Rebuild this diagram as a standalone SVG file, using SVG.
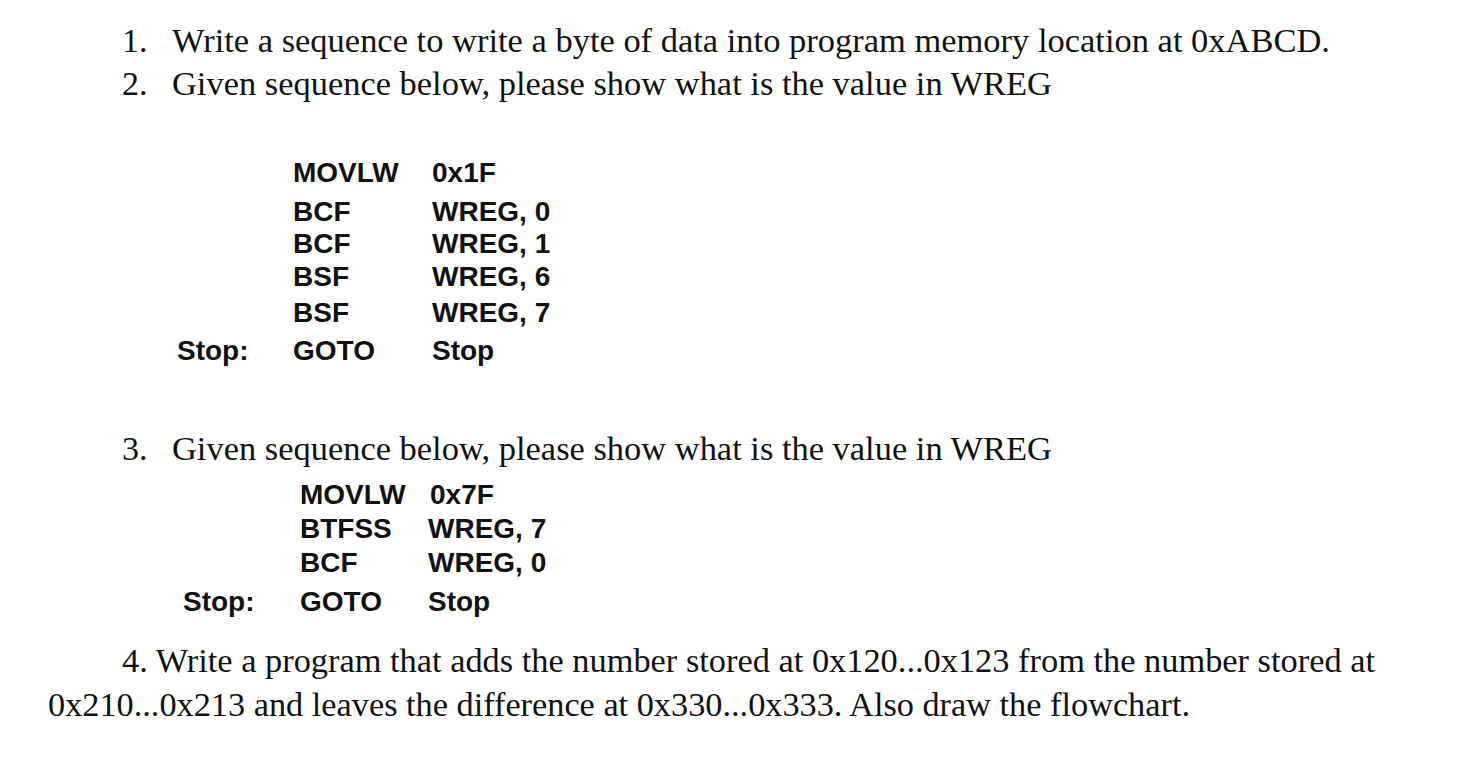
<svg xmlns="http://www.w3.org/2000/svg" width="1458" height="764" viewBox="0 0 1458 764">
<style>
.t{font-family:"Liberation Serif",serif;font-size:34px;fill:#111}
.c{font-family:"Liberation Sans",Arial,sans-serif;font-size:28px;font-weight:bold;fill:#111}
</style>
<rect width="1458" height="764" fill="#fff"/>
<g id="q1"><text class="t" x="122" y="52">1.</text><text class="t" x="172" y="52" textLength="1158" lengthAdjust="spacingAndGlyphs">Write a sequence to write a byte of data into program memory location at 0xABCD.</text></g>
<g id="q2"><text class="t" x="122" y="95">2.</text><text class="t" x="172" y="95" textLength="880" lengthAdjust="spacingAndGlyphs">Given sequence below, please show what is the value in WREG</text></g>
<g id="code1">
<text class="c" x="293" y="182">MOVLW</text><text class="c" x="432" y="182">0x1F</text>
<text class="c" x="293" y="221">BCF</text><text class="c" x="432" y="221">WREG, 0</text>
<text class="c" x="293" y="253">BCF</text><text class="c" x="432" y="253">WREG, 1</text>
<text class="c" x="293" y="286">BSF</text><text class="c" x="432" y="286">WREG, 6</text>
<text class="c" x="293" y="322">BSF</text><text class="c" x="432" y="322">WREG, 7</text>
<text class="c" x="177" y="360">Stop:</text><text class="c" x="293" y="360">GOTO</text><text class="c" x="432" y="360">Stop</text>
</g>
<g id="q3"><text class="t" x="122" y="460">3.</text><text class="t" x="172" y="460" textLength="880" lengthAdjust="spacingAndGlyphs">Given sequence below, please show what is the value in WREG</text></g>
<g id="code2">
<text class="c" x="300" y="504">MOVLW</text><text class="c" x="430" y="504">0x7F</text>
<text class="c" x="300" y="538">BTFSS</text><text class="c" x="428" y="538">WREG, 7</text>
<text class="c" x="300" y="572">BCF</text><text class="c" x="428" y="572">WREG, 0</text>
<text class="c" x="183" y="611">Stop:</text><text class="c" x="300" y="611">GOTO</text><text class="c" x="428" y="611">Stop</text>
</g>
<g id="q4"><text class="t" x="122" y="672" textLength="1253" lengthAdjust="spacingAndGlyphs">4. Write a program that adds the number stored at 0x120...0x123 from the number stored at</text>
<text class="t" x="48" y="716" textLength="1142" lengthAdjust="spacingAndGlyphs">0x210...0x213 and leaves the difference at 0x330...0x333. Also draw the flowchart.</text></g>
</svg>
